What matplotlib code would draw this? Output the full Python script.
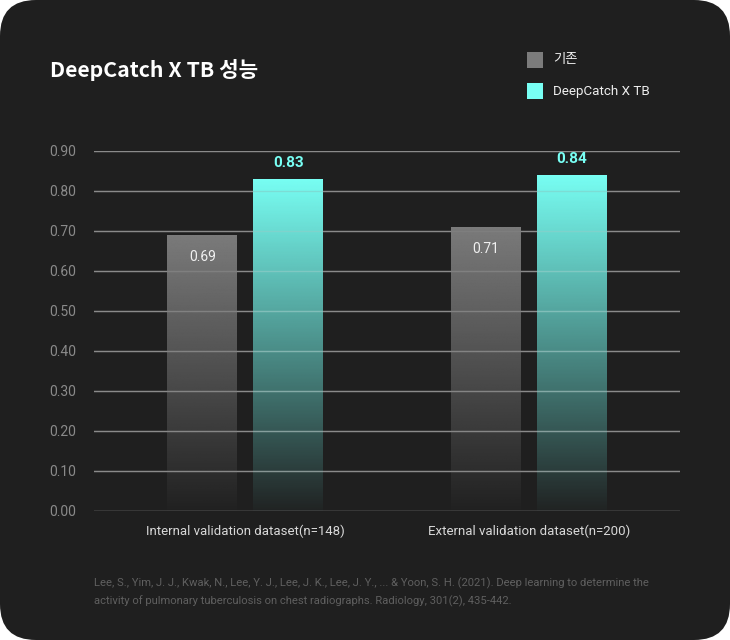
import numpy as np
import matplotlib
matplotlib.use("Agg")
import matplotlib.pyplot as plt
from matplotlib.patches import FancyBboxPatch
from matplotlib.colors import to_rgb

categories = ["Internal validation dataset(n=148)", "External validation dataset(n=200)"]
series_names = ["기존", "DeepCatch X TB"]
baseline_vals = [0.69, 0.71]
deepcatch_vals = [0.83, 0.84]
yticks = [0.0, 0.1, 0.2, 0.3, 0.4, 0.5, 0.6, 0.7, 0.8, 0.9]

BG = "#1f1f1f"
GRAY = "#7b7b7b"
CYAN = "#78fff4"
GRID = "#8a8a8a"

plt.rcParams['font.family'] = ['Roboto', 'Noto Sans CJK KR', 'DejaVu Sans']

fig = plt.figure(figsize=(7.3, 6.4), dpi=100)
fig.patch.set_facecolor("white")
bg = FancyBboxPatch((0, 0), 7.3, 6.4, boxstyle="round,pad=0,rounding_size=0.36",
                    transform=fig.dpi_scale_trans, facecolor=BG, edgecolor="none", zorder=-10)
fig.patches.append(bg)

ax = fig.add_axes([94/730, 1-511/640, (680-94)/730, (511-151)/640])
ax.set_facecolor("none")
for s in ax.spines.values():
    s.set_visible(False)

x = np.arange(len(categories))
offset = 0.152
width = 0.247

def grad_bar(xc, h, color):
    r, g, b = to_rgb(color)
    n = 256
    img = np.zeros((n, 1, 4))
    img[:, 0, 0] = r
    img[:, 0, 1] = g
    img[:, 0, 2] = b
    img[:, 0, 3] = np.linspace(1.0, 0.02, n)
    ax.imshow(img, extent=[xc - width/2, xc + width/2, 0, h], aspect='auto',
              interpolation='bilinear', zorder=2, origin='upper')

ax.set_yticks(yticks)
ax.grid(axis='y', color=GRID, linewidth=1, zorder=0)
ax.set_axisbelow(True)

for i in range(len(categories)):
    grad_bar(x[i] - offset, baseline_vals[i], GRAY)
    grad_bar(x[i] + offset, deepcatch_vals[i], CYAN)
    ax.text(x[i] - offset, baseline_vals[i] - 0.055, f"{baseline_vals[i]:.2f}",
            ha='center', va='center', color="#f0f0f0", fontsize=10, zorder=5)
    ax.text(x[i] + offset, deepcatch_vals[i] + 0.04, f"{deepcatch_vals[i]:.2f}",
            ha='center', va='center', color=CYAN, fontsize=11, fontweight='bold', zorder=5)

# faint gridlines over bars
for yv in yticks:
    ax.axhline(yv, color=GRID, linewidth=1, alpha=0.25, zorder=3)

ax.set_xlim(-0.534, 1.534)
ax.set_ylim(0, 0.9)
ax.set_xticks(x)
ax.set_xticklabels(categories, color="#d8d8d8", fontsize=9.5)
ax.set_yticklabels([f"{v:.2f}" for v in yticks], color=GRID, fontsize=10)
ax.tick_params(axis='both', length=0)
ax.tick_params(axis='y', pad=13)
ax.tick_params(axis='x', pad=10)

# title
fig.text(50/730, 1-70/640, "DeepCatch X TB 성능", color="white", fontsize=15.3,
         fontweight='bold', family=['Noto Sans CJK KR', 'DejaVu Sans'], ha='left', va='center')

# legend
for j, (name, col) in enumerate(zip(series_names, [GRAY, CYAN])):
    yc = 60 + j*31
    sq = FancyBboxPatch(((527)/100, (640-yc-8)/100), 0.16, 0.16, boxstyle="square,pad=0",
                        transform=fig.dpi_scale_trans, facecolor=col, edgecolor='none')
    fig.patches.append(sq)
    fig.text(553/730, 1-yc/640, name, color="#eeeeee", fontsize=9.6, ha='left', va='center')

# citation
cite = ("Lee, S., Yim, J. J., Kwak, N., Lee, Y. J., Lee, J. K., Lee, J. Y., ... & Yoon, S. H. (2021). Deep learning to determine the\n"
        "activity of pulmonary tuberculosis on chest radiographs. Radiology, 301(2), 435-442.")
fig.text(94/730, 1-592/640, cite, color="#5f5f5f", fontsize=8.15, ha='left', va='center',
         linespacing=1.7)

fig.savefig("out.png", dpi=100, facecolor=fig.get_facecolor())
